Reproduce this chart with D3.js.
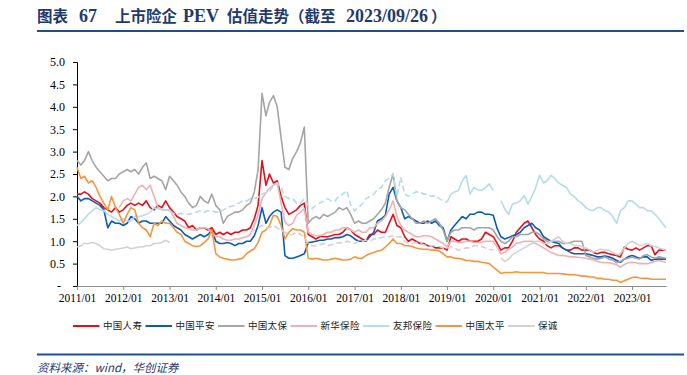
<!DOCTYPE html>
<html>
<head>
<meta charset="utf-8">
<script src="https://cdnjs.cloudflare.com/ajax/libs/d3/7.8.5/d3.min.js"></script>
<style>
  body { margin: 0; background: #fff; }
  .tick text { font-family: "Liberation Serif", "Times New Roman", serif; fill: #000; }
  .legendText { font-family: "Noto Sans CJK SC", sans-serif; font-size: 9.5px; fill: #222; letter-spacing: 0.3px; }
</style>
</head>
<body>
<svg id="chart"></svg>
<script>
// monthly PEV, 2011/01 .. 2023/09 (last point = 2023/09/26)
var startMonth = "2011-01";
var endDate = "2023-09-26";

var seriesNames = ["中国人寿", "中国平安", "中国太保", "新华保险", "友邦保险", "中国太平", "保诚"];

var chinaLife = [
  2.05, 2.05, 2.1, 2.05, 1.95, 1.9, 1.85, 1.75, 1.7, 1.65, 1.75, 1.65,
  1.7, 1.8, 1.85, 1.8, 1.85, 1.8, 1.9, 1.75, 1.7, 1.8, 1.75, 1.9,
  1.75, 1.65, 1.55, 1.5, 1.45, 1.3, 1.35, 1.25, 1.3, 1.3, 1.25, 1.3,
  1.15, 1.2, 1.15, 1.2, 1.15, 1.2, 1.2, 1.25, 1.25, 1.3, 1.5, 1.8,
  2.8, 2.25, 2.5, 2.3, 2.35, 2.0, 1.75, 1.6, 1.65, 1.7, 1.8, 1.85,
  1.15, 1.1, 1.05, 1.1, 1.1, 1.1, 1.12, 1.15, 1.15, 1.2, 1.3, 1.25,
  1.15, 1.1, 1.05, 1.0, 1.15, 1.15, 1.25, 1.2, 1.2, 1.4, 1.6, 1.35,
  1.3, 1.1, 1.0, 1.05, 1.0, 0.95, 0.95, 0.9, 0.9, 0.85, 0.85, 0.85,
  0.8, 1.1, 1.05, 1.0, 1.05, 1.05, 1.0, 1.0, 1.0, 1.05, 1.2, 1.15,
  1.1, 0.95, 0.8, 0.85, 0.85, 1.0, 1.2, 1.3, 1.4, 1.45, 1.3, 1.15,
  1.05, 1.0, 0.9, 0.85, 0.9, 0.9, 0.85, 0.8, 0.8, 0.85, 0.85, 0.8,
  0.8, 0.8, 0.75, 0.72, 0.75, 0.75, 0.72, 0.7, 0.68, 0.65, 0.87, 0.82,
  0.8, 0.85, 0.8, 0.85, 0.9, 0.9, 0.7, 0.8, 0.8
];

var pingAn = [
  2.0, 1.9, 1.95, 1.95, 1.9, 1.85, 1.8, 1.7, 1.3, 1.45, 1.4, 1.4,
  1.35, 1.4, 1.55, 1.5, 1.4, 1.45, 1.45, 1.4, 1.4, 1.4, 1.4, 1.55,
  1.45, 1.35, 1.3, 1.25, 1.15, 1.1, 1.05, 1.1, 1.15, 1.1, 1.15, 1.25,
  1.0, 0.95, 0.95, 0.97, 0.95, 0.9, 0.95, 0.95, 1.0, 1.0, 1.12, 1.35,
  1.75, 1.4, 1.55, 1.65, 1.7, 1.65, 0.68, 0.62, 0.62, 0.65, 0.68, 0.72,
  0.97, 0.98, 1.0, 1.02, 1.02, 1.05, 1.05, 1.08, 1.08, 1.1, 1.15, 1.12,
  1.05, 1.0, 1.0, 1.0, 1.1, 1.2, 1.45, 1.5, 1.58, 2.05, 2.2, 1.9,
  1.75, 1.5, 1.55, 1.5, 1.45, 1.4, 1.4, 1.45, 1.4, 1.45, 1.35, 1.3,
  1.0, 1.25, 1.35, 1.45, 1.55, 1.5, 1.6, 1.6, 1.65, 1.65, 1.6, 1.6,
  1.58, 1.28, 1.1, 1.05, 1.08, 1.12, 1.15, 1.2, 1.3, 1.35, 1.4, 1.3,
  1.25, 1.1, 1.05, 1.0, 0.97, 0.95, 0.85, 0.8, 0.75, 0.72, 0.72, 0.72,
  0.72, 0.7, 0.68, 0.65, 0.65, 0.67, 0.65, 0.62, 0.57, 0.53, 0.6, 0.65,
  0.68, 0.65, 0.62, 0.65, 0.65, 0.57, 0.6, 0.6, 0.6
];

var cpic = [
  2.8, 2.7, 2.8, 3.0, 2.8, 2.65, 2.55, 2.45, 2.35, 2.4, 2.4, 2.5,
  2.55, 2.6, 2.55, 2.6, 2.5, 2.65, 2.75, 2.4, 2.45, 2.4, 2.35, 2.15,
  2.45, 2.35, 2.25, 2.1, 2.0, 1.85, 1.75, 1.8, 2.0, 1.9, 1.85, 2.05,
  1.8, 1.7, 1.4, 1.55, 1.6, 1.65, 1.65, 1.7, 1.8, 1.85, 2.1, 2.6,
  4.3, 3.8, 4.1, 4.25, 4.0, 3.3, 2.65, 2.6, 2.85, 3.0, 3.2, 3.55,
  1.4, 1.5, 1.55, 1.5, 1.6, 1.55, 1.6, 1.65, 1.75, 1.7, 1.75, 1.6,
  1.4, 1.45, 1.4, 1.4, 1.45, 1.5, 1.6, 1.7, 1.85, 2.2, 2.5, 1.9,
  1.75, 1.7, 1.6, 1.5, 1.4, 1.4, 1.45, 1.4, 1.45, 1.5, 1.4, 1.25,
  1.0, 1.2, 1.25, 1.25, 1.3, 1.3, 1.3, 1.25, 1.3, 1.3, 1.3, 1.3,
  1.25, 1.1, 1.0, 0.95, 1.0, 1.1, 1.1, 1.15, 1.15, 1.15, 1.2, 1.2,
  1.15, 1.05, 1.0, 1.0, 1.0, 1.0, 0.95, 0.95, 0.97, 1.0, 1.0, 1.0,
  0.68, 0.65, 0.62, 0.6, 0.62, 0.65, 0.6, 0.58, 0.52, 0.55, 0.6, 0.62,
  0.65, 0.62, 0.6, 0.68, 0.7, 0.65, 0.62, 0.65, 0.62
];

var newChinaLife = [
  null, null, null, null, null, null, null, null, null, null, null, 1.75,
  1.9, 1.95, 1.9, 2.05, 2.2, 2.25, 2.15, 2.25, 2.0, 1.75, 1.7, 1.7,
  1.7, 1.55, 1.4, 1.35, 1.3, 1.28, 1.25, 1.25, 1.3, 1.3, 1.28, 1.2,
  1.1, 1.1, 1.05, 1.02, 1.02, 1.05, 1.05, 1.08, 1.1, 1.15, 1.35, 1.58,
  1.95, 2.08, 2.18, 2.25, 2.3, 1.85, 1.42, 1.35, 1.4, 1.58, 1.65, 1.73,
  1.2, 1.15, 1.12, 1.12, 1.15, 1.2, 1.2, 1.25, 1.25, 1.3, 1.3, 1.25,
  1.2, 1.25, 1.2, 1.2, 1.3, 1.3, 1.4, 1.45, 1.55, 1.7, 1.9, 1.55,
  1.35, 1.25, 1.2, 1.15, 1.1, 1.1, 1.12, 1.12, 1.1, 1.05, 1.0, 0.95,
  0.87, 1.0, 1.0, 0.97, 0.97, 1.0, 1.0, 0.97, 0.97, 0.97, 1.0, 1.0,
  1.0, 0.87, 0.72, 0.75, 0.82, 0.87, 0.95, 0.97, 1.0, 1.0, 1.0, 0.95,
  0.9, 0.85, 0.8, 0.75, 0.72, 0.68, 0.68, 0.67, 0.65, 0.65, 0.64, 0.63,
  0.62, 0.6, 0.58, 0.55, 0.53, 0.52, 0.52, 0.5, 0.48, 0.42, 0.48, 0.52,
  0.53, 0.52, 0.5, 0.5, 0.5, 0.52, 0.55, 0.57, 0.53
];

var aia = [
  1.35, 1.42, 1.5, 1.6, 1.68, 1.75, 1.7, 1.68, 1.6, 1.55, 1.5, 1.45,
  1.5, 1.45, 1.45, 1.55, 1.55, 1.57, 1.6, 1.65, 1.75, 1.72, 1.72, 1.7,
  1.68, 1.62, 1.6, 1.62, 1.6, 1.6, 1.62, 1.65, 1.68, 1.65, 1.68, 1.68,
  1.65, 1.65, 1.7, 1.75, 1.78, 1.8, 1.85, 1.9, 1.9, 1.95, 1.95, 1.98,
  2.05, 2.08, 2.1, 2.25, 2.3, 2.2, 2.0, 1.95, 1.95, 1.85, 1.85, 1.95,
  1.8, 1.73, 1.8, 1.85, 1.9, 1.95, 1.9, 1.9, 2.02, 2.05, 2.13, 1.8,
  1.68, 1.75, 1.83, 1.95, 2.0, 2.05, 2.15, 2.2, 2.35, 2.4, 2.5, 2.0,
  2.43, 2.05, 2.0, 2.05, 2.1, 2.1, 2.05, 2.05, 2.0, 2.02, 1.95, 1.9,
  1.87, 2.05, 2.1, 2.13, 2.35, 2.47, 2.05, 2.2, 2.15, 2.13, 2.2, 2.28,
  2.13, null, 1.9, 1.72, 1.6, 1.83, 1.85, 1.9, 2.02, 1.83, 2.0, 2.2,
  2.47, 2.3, 2.35, 2.47, 2.4, 2.3, 2.25, 2.2, 2.05, 2.0, 1.9, 1.85,
  1.75, 1.7, 1.68, 1.75, 1.75, 1.68, 1.65, 1.55, 1.4, 1.68, 1.75, 1.9,
  1.9, 1.83, 1.75, 1.75, 1.68, 1.68, 1.6, 1.5, 1.3
];

var chinaTaiping = [
  2.65, 2.4, 2.45, 2.3, 2.35, 2.2, 2.0, 1.85, 1.7, 2.0, 1.75, 1.6,
  1.4, 1.6, 1.75, 1.7, 1.4, 1.3, 1.25, 1.1, 1.4, 1.35, 1.45, 1.4,
  1.4, 1.3, 1.2, 1.15, 1.0, 0.95, 0.9, 0.88, 0.9, 0.97, 1.05, 1.25,
  0.72, 0.65, 0.62, 0.6, 0.58, 0.58, 0.6, 0.62, 0.72, 0.78, 0.83, 0.97,
  1.2, 1.25, 1.35, 1.58, 1.55, 1.35, 1.05, 1.2, 1.28, 1.25, 1.25, 1.2,
  0.62, 0.6, 0.62, 0.6, 0.58, 0.58, 0.6, 0.62, 0.6, 0.58, 0.58, 0.6,
  0.65, 0.62, 0.62, 0.68, 0.72, 0.75, 0.78, 0.8, 0.87, 0.95, 1.05, 0.95,
  0.95, 0.9, 0.9, 0.88, 0.85, 0.83, 0.82, 0.82, 0.8, 0.8, 0.78, 0.72,
  0.65, 0.65, 0.62, 0.62, 0.6, 0.57, 0.57, 0.55, 0.55, 0.53, 0.52, 0.5,
  0.42, 0.35, 0.28, 0.3, 0.3, 0.3, 0.32, 0.3, 0.3, 0.3, 0.3, 0.3,
  0.3, 0.3, 0.28, 0.28, 0.28, 0.28, 0.27, 0.26, 0.25, 0.25, 0.24, 0.22,
  0.22, 0.2, 0.2, 0.17, 0.17, 0.15, 0.15, 0.13, 0.13, 0.08, 0.12, 0.15,
  0.19, 0.2, 0.18, 0.17, 0.17, 0.15, 0.15, 0.15, 0.15
];

var prudential = [
  0.87, 0.9, 0.95, 0.95, 0.97, 0.95, 0.9, 0.83, 0.82, 0.8, 0.82, 0.83,
  0.85, 0.87, 0.83, 0.85, 0.87, 0.87, 0.9, 0.9, 0.95, 0.95, 0.97, 1.02,
  0.97, null, null, null, null, null, null, null, null, null, null, null,
  null, null, null, null, null, null, null, null, null, 1.2, 1.25, 1.3,
  1.35, 1.3, 1.3, 1.35, 1.3, 1.25, 1.2, 1.15, 1.15, 1.2, 1.15, 1.1,
  0.95, 0.9, 0.9, 0.92, 0.95, 0.9, 0.92, 0.95, 0.97, 0.95, 1.0, 0.97,
  0.95, 1.0, 1.0, 1.02, 1.0, 1.05, 1.05, 1.08, 1.1, 1.1, 1.12, 1.1,
  1.1, 1.0, 0.95, 0.95, 0.97, 0.95, 0.92, 0.9, 0.9, 0.9, 0.88, 0.85,
  0.85, 0.88, 0.85, 0.8, 0.82, 0.85, 0.85, 0.9, 0.9, 0.88, 0.85, 0.82,
  0.8, null, 0.62, 0.55, 0.6, 0.7, 0.75, 0.8, 0.85, 0.9, 0.95, 1.0,
  1.0, 0.95, 0.95, 1.0, 1.05, 1.1, 1.0, 0.95, 0.95, 0.9, 0.9, 0.88,
  0.85, 0.8, 0.75, 0.8, 0.82, 0.8, 0.8, 0.75, 0.7, 0.72, 0.85, 0.95,
  1.0, 0.95, 0.9, 0.92, 0.95, 0.9, 0.88, 0.85, 0.8
];

// periods where the daily data is patchy (drawn broken)
var sparsePeriods = [
  [],
  [],
  [],
  [],
  [["2013-01-01", "2019-01-01"]],
  [],
  [["2014-10-01", "2020-01-01"]]
];

var yTicks = [0, 0.5, 1, 1.5, 2, 2.5, 3, 3.5, 4, 4.5, 5];

var colors = ["#e60f19", "#0b5db3", "#a5a5a5", "#edb3b3", "#b4dcea", "#f7953f", "#d2d2d2"];

var allSeries = [chinaLife, pingAn, cpic, newChinaLife, aia, chinaTaiping, prudential];

var parseDay = d3.timeParse("%Y-%m-%d");
var parseMonth = d3.timeParse("%Y-%m");

var months = d3.timeMonth.range(parseMonth(startMonth), d3.timeMonth.ceil(parseDay(endDate)));
months[months.length - 1] = parseDay(endDate);

var svg = d3.select("#chart")
    .attr("width", 687)
    .attr("height", 375);

// title + rules
var titleParts = [
    { t: "图表", x: 37, latin: false },
    { t: "67", x: 79, latin: true },
    { t: "上市险企", x: 115, latin: false },
    { t: "PEV", x: 183, latin: true },
    { t: "估值走势（截至", x: 227, latin: false },
    { t: "2023/09/26", x: 346, latin: true },
    { t: "）", x: 431, latin: false }
];

var title = svg.append("text")
    .attr("y", 22)
    .attr("font-weight", "bold")
    .attr("fill", "#1f3a6e");

title.selectAll("tspan")
    .data(titleParts)
    .enter().append("tspan")
    .attr("x", function (d) { return d.x; })
    .attr("font-family", function (d) { return d.latin ? "'Liberation Serif', serif" : "'Noto Sans CJK SC', sans-serif"; })
    .attr("font-size", function (d) { return d.latin ? "18px" : "15.5px"; })
    .text(function (d) { return d.t; });

svg.append("line")
    .attr("x1", 37).attr("x2", 684)
    .attr("y1", 31).attr("y2", 31)
    .attr("stroke", "#1f4e91")
    .attr("stroke-width", 1.8);

svg.append("line")
    .attr("x1", 37).attr("x2", 684)
    .attr("y1", 354.5).attr("y2", 354.5)
    .attr("stroke", "#1f4e91")
    .attr("stroke-width", 1.8);

svg.append("text")
    .attr("x", 37)
    .attr("y", 372)
    .attr("font-family", "'Noto Sans CJK SC', sans-serif")
    .attr("font-style", "italic")
    .attr("font-size", "11.5px")
    .attr("fill", "#1f3a6e")
    .text("资料来源：wind，华创证券");

var xScale = d3.scaleTime()
    .domain([months[0], months[months.length - 1]])
    .range([77, 666]);

var yScale = d3.scaleLinear()
    .domain([0, 5])
    .range([286, 62]);

// axes
var yAxis = d3.axisLeft(yScale)
    .tickValues(yTicks)
    .tickSize(4)
    .tickPadding(8)
    .tickFormat(function (d) { return d === 0 ? "-" : d3.format(".1f")(d); });

var yG = svg.append("g")
    .attr("transform", "translate(77,0)")
    .call(yAxis);
yG.select(".domain").attr("stroke", "#000").attr("stroke-width", 1);
yG.selectAll(".tick line").attr("stroke", "#000");
yG.selectAll(".tick text").attr("font-size", "12px");
yG.selectAll(".tick text").filter(function (d) { return d === 0; }).attr("dx", -4);

var xAxis = d3.axisBottom(xScale)
    .ticks(d3.timeYear.every(1))
    .tickSize(4)
    .tickPadding(4)
    .tickSizeOuter(0)
    .tickFormat(d3.timeFormat("%Y/%m"));

var xG = svg.append("g")
    .attr("transform", "translate(0,286)")
    .call(xAxis);
xG.select(".domain").attr("stroke", "#8c8c8c").attr("stroke-width", 1.2);
xG.selectAll(".tick line").attr("stroke", "#8c8c8c");
xG.selectAll(".tick text").attr("font-size", "11.5px");

// lines
function inSparse(date, periods) {
    for (var i = 0; i < periods.length; i++) {
        if (date >= parseDay(periods[i][0]) && date <= parseDay(periods[i][1])) return true;
    }
    return false;
}

var plot = svg.append("g").attr("class", "lines");

allSeries.forEach(function (values, s) {
    var pts = values.map(function (v, i) { return { date: months[i], v: v }; });
    var periods = sparsePeriods[s];

    var solid = d3.line()
        .defined(function (d) {
            if (d.v === null) return false;
            if (!periods.length) return true;
            var inside = periods.some(function (p) { return d.date > parseDay(p[0]) && d.date < parseDay(p[1]); });
            return !inside;
        })
        .x(function (d) { return xScale(d.date); })
        .y(function (d) { return yScale(d.v); });

    plot.append("path")
        .datum(pts)
        .attr("fill", "none")
        .attr("stroke", colors[s])
        .attr("stroke-width", 1.6)
        .attr("stroke-linejoin", "round")
        .attr("d", solid);

    if (periods.length) {
        var broken = d3.line()
            .defined(function (d) { return d.v !== null && inSparse(d.date, periods); })
            .x(function (d) { return xScale(d.date); })
            .y(function (d) { return yScale(d.v); });

        plot.append("path")
            .datum(pts)
            .attr("fill", "none")
            .attr("stroke", colors[s])
            .attr("stroke-width", 1.6)
            .attr("stroke-dasharray", "6,3")
            .attr("d", broken);
    }
});

// legend
var legend = svg.append("g")
    .attr("class", "legend")
    .attr("transform", "translate(73,326)");

var item = legend.selectAll(".item")
    .data(seriesNames)
    .enter().append("g")
    .attr("class", "item")
    .attr("transform", function (d, i) { return "translate(" + (i * 72.5) + ",0)"; });

item.append("line")
    .attr("x1", 0).attr("x2", 26.5)
    .attr("y1", 0).attr("y2", 0)
    .attr("stroke", function (d, i) { return colors[i]; })
    .attr("stroke-width", 2);

item.append("text")
    .attr("class", "legendText")
    .attr("x", 30)
    .attr("y", 0)
    .attr("dy", "0.35em")
    .text(function (d) { return d; });
</script>
</body>
</html>
